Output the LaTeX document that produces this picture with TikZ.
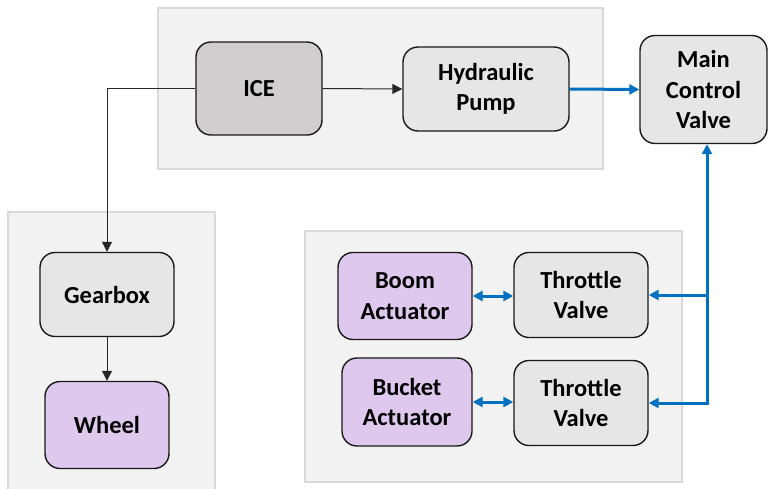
\documentclass[tikz,border=0pt]{standalone}
\usepackage{fontspec}
\setmainfont{Carlito}
\usetikzlibrary{arrows.meta}
\definecolor{panelfill}{HTML}{F2F2F2}
\definecolor{panelline}{HTML}{D9D9D9}
\definecolor{greyfill}{HTML}{E6E6E6}
\definecolor{darkfill}{HTML}{D0CECE}
\definecolor{lilac}{HTML}{DFC8ED}
\definecolor{flow}{HTML}{0070C0}
\tikzset{
  panel/.style={fill=panelfill, draw=panelline, line width=1.2pt},
  block/.style={draw=black!90, line width=1.4pt, rounded corners=15pt,
    align=center, font=\fontsize{24.5}{30.5}\selectfont\bfseries, inner sep=0pt},
  greyblock/.style={block, fill=greyfill},
  darkblock/.style={block, fill=darkfill},
  lilacblock/.style={block, fill=lilac},
  mech/.style={draw=black!85, line width=1pt, -{Triangle[length=10pt,width=10pt]}},
  hyd/.style={draw=flow, line width=3pt, line join=miter,
    arrows={-Triangle[length=10pt,width=10pt]}},
  hydboth/.style={draw=flow, line width=3pt, line join=miter,
    arrows={Triangle[length=10pt,width=10pt]-Triangle[length=10pt,width=10pt]}},
}
\begin{document}
\begin{tikzpicture}[x=1pt, y=-1pt]
  \useasboundingbox (0,0) rectangle (769,488);

  % grouping panels
  \fill[panel] (158,8) rectangle (603,169);
  \fill[panel] (8,212) rectangle (215,492);
  \fill[panel] (305,231) rectangle (682,482);

  % blocks
  \node[darkblock, minimum width=126pt, minimum height=93pt] (ice) at (259,88.5) {ICE};
  \node[greyblock, minimum width=166pt, minimum height=84pt] (pump) at (486,89) {Hydraulic\\Pump};
  \node[greyblock, minimum width=127pt, minimum height=108pt] (mcv) at (703.5,89.5) {Main\\Control\\Valve};
  \node[greyblock, minimum width=134pt, minimum height=84pt] (gear) at (107,294.5) {Gearbox};
  \node[lilacblock, minimum width=124pt, minimum height=87pt] (wheel) at (107,425) {Wheel};
  \node[lilacblock, minimum width=134pt, minimum height=87pt] (boom) at (405,296) {Boom\\Actuator};
  \node[greyblock, minimum width=134pt, minimum height=85pt] (tv1) at (581,295) {Throttle\\Valve};
  \node[lilacblock, minimum width=130pt, minimum height=88pt] (bucket) at (407,402) {Bucket\\Actuator};
  \node[greyblock, minimum width=134pt, minimum height=85pt] (tv2) at (581,403) {Throttle\\Valve};

  % mechanical drive
  \draw[mech] (ice.west) -| (gear.north);
  \draw[mech] (ice.east) -- (pump.west);
  \draw[mech] (gear.south) -- (wheel.north);

  % hydraulic lines
  \coordinate (bus) at (707,403);
  \draw[hyd] (pump.east) -- (mcv.west);
  \draw[hydboth] (tv2.east) -- (bus) -- (bus |- mcv.south);
  \draw[hyd] (bus |- tv1.east) -- (tv1.east);
  \draw[hydboth] (boom.east) -- (tv1.west |- boom.east);
  \draw[hydboth] (bucket.east) -- (tv2.west |- bucket.east);
\end{tikzpicture}
\end{document}
